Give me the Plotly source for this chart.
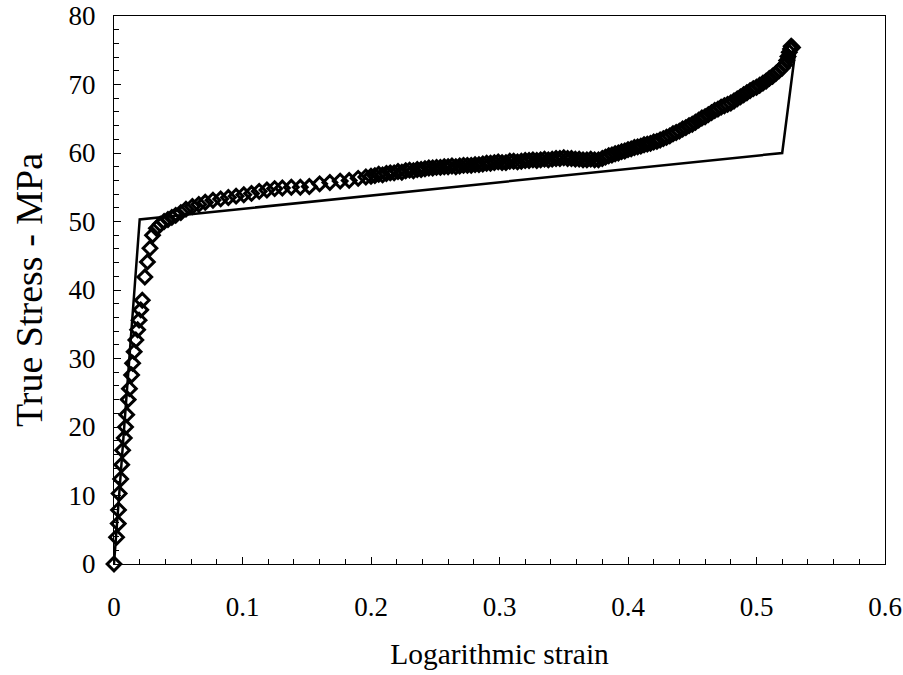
import plotly.graph_objects as go

# Measured true stress / logarithmic strain points
strain = [
    0.0, 0.002, 0.0033, 0.0035, 0.004, 0.0052, 0.006, 0.0067, 0.008, 0.009,
    0.0099, 0.011, 0.012, 0.0137, 0.0145, 0.0157, 0.017, 0.0184, 0.0195, 0.0208,
    0.022, 0.024, 0.026, 0.028, 0.030, 0.033, 0.036, 0.039, 0.042, 0.045,
    0.048, 0.052, 0.056, 0.061, 0.066, 0.071, 0.077, 0.083, 0.089, 0.095,
    0.101, 0.107, 0.113, 0.119, 0.125, 0.131, 0.138, 0.145, 0.152, 0.160,
    0.168, 0.176, 0.183, 0.190, 0.196,
    0.200, 0.203, 0.206, 0.209, 0.212, 0.215, 0.218, 0.221, 0.224, 0.227,
    0.230, 0.233, 0.236, 0.239, 0.242, 0.245, 0.248, 0.251, 0.254, 0.257,
    0.260, 0.263, 0.266, 0.269, 0.272, 0.275, 0.278, 0.281, 0.284, 0.287,
    0.290, 0.293, 0.296, 0.299, 0.302, 0.305, 0.308, 0.311, 0.314, 0.317,
    0.320, 0.323, 0.326, 0.329, 0.332, 0.335, 0.338, 0.341, 0.344, 0.347,
    0.350, 0.353, 0.356, 0.359, 0.362, 0.365, 0.368, 0.371, 0.374, 0.377,
    0.380, 0.3825, 0.385, 0.3875, 0.390, 0.3925, 0.395, 0.3975, 0.400, 0.4025,
    0.405, 0.4075, 0.410, 0.4125, 0.415, 0.4175, 0.420, 0.4225, 0.425, 0.4275,
    0.430, 0.4325, 0.435, 0.4375, 0.440, 0.4425, 0.445, 0.4475, 0.450, 0.4525,
    0.455, 0.4575, 0.460, 0.4625, 0.465, 0.4675, 0.470, 0.4725, 0.475, 0.4775,
    0.480, 0.4825, 0.485, 0.4875, 0.490, 0.4925, 0.495, 0.4975, 0.500, 0.5025,
    0.505, 0.5075, 0.510, 0.5125, 0.515, 0.5175, 0.520, 0.522, 0.5235, 0.5245,
    0.5255, 0.5265, 0.527, 0.528,
]
stress = [
    0.0, 3.9, 5.9, 7.9, 10.3, 12.4, 14.5, 16.6, 18.4, 20.0,
    21.8, 24.0, 25.6, 27.6, 29.3, 31.0, 32.7, 34.2, 35.6, 37.1,
    38.5, 41.9, 44.1, 46.1, 48.0, 49.0, 49.6, 50.0, 50.3, 50.6,
    50.9, 51.3, 51.8, 52.2, 52.5, 52.8, 53.1, 53.3, 53.5, 53.7,
    53.9, 54.1, 54.4, 54.6, 54.8, 54.9, 55.0, 55.0, 55.1, 55.5,
    55.7, 55.9, 56.0, 56.3, 56.5,
    56.6, 56.7, 56.9, 56.8, 57.0, 57.1, 57.1, 57.3, 57.2, 57.4,
    57.5, 57.4, 57.6, 57.6, 57.7, 57.8, 57.8, 57.9, 57.9, 58.0,
    58.0, 58.1, 58.0, 58.1, 58.2, 58.2, 58.2, 58.3, 58.3, 58.4,
    58.5, 58.5, 58.6, 58.7, 58.6, 58.6, 58.8, 58.8, 58.7, 58.8,
    58.9, 58.9, 59.0, 58.9, 59.0, 59.1, 59.0, 59.1, 59.2, 59.2,
    59.3, 59.2, 59.2, 59.1, 59.1, 59.0, 59.0, 59.1, 59.0, 59.0,
    59.2, 59.4, 59.6, 59.7, 59.9, 60.0, 60.2, 60.3, 60.5, 60.6,
    60.8, 60.9, 61.0, 61.2, 61.3, 61.4, 61.6, 61.7, 61.9, 62.1,
    62.3, 62.5, 62.8, 63.0, 63.2, 63.5, 63.7, 64.0, 64.2, 64.5,
    64.8, 65.1, 65.3, 65.6, 65.9, 66.2, 66.4, 66.7, 66.9, 67.1,
    67.3, 67.6, 67.9, 68.2, 68.5, 68.8, 69.1, 69.4, 69.6, 69.9,
    70.2, 70.5, 70.9, 71.2, 71.6, 72.0, 72.4, 72.9, 73.5, 74.1,
    74.7, 75.2, 75.6, 75.4,
]

# Piecewise-linear (bilinear + hardening) model
model_strain = [0.0, 0.020, 0.520, 0.530]
model_stress = [0.0, 50.3, 60.0, 74.6]

x_ticks = [0, 0.1, 0.2, 0.3, 0.4, 0.5, 0.6]
x_tick_text = ["0", "0.1", "0.2", "0.3", "0.4", "0.5", "0.6"]
y_ticks = [0, 10, 20, 30, 40, 50, 60, 70, 80]

serif = "Liberation Serif"

fig = go.Figure()
fig.add_trace(go.Scatter(
    x=model_strain, y=model_stress, mode="lines",
    line=dict(color="black", width=2.5),
    showlegend=False, cliponaxis=False,
))
fig.add_trace(go.Scatter(
    x=strain, y=stress, mode="markers",
    marker=dict(symbol="diamond-open", size=10.5, color="black",
                line=dict(color="black", width=3)),
    showlegend=False, cliponaxis=False,
))

axis_common = dict(
    showgrid=False, zeroline=False, showline=True, linecolor="black",
    linewidth=1.2, mirror=True, ticks="inside", ticklen=7, tickwidth=1,
    tickcolor="black", automargin=False,
    tickfont=dict(family=serif, size=27, color="black"),
)

fig.update_xaxes(
    **axis_common, range=[0, 0.6], tickvals=x_ticks, ticktext=x_tick_text,
    minor=dict(dtick=0.02, ticks="inside", ticklen=5, tickcolor="black"),
    ticklabelstandoff=18,
    title=dict(text="Logarithmic strain", font=dict(family=serif, size=29.5, color="black"),
               standoff=22),
)
fig.update_yaxes(
    **axis_common, range=[0, 80], tickvals=y_ticks,
    minor=dict(dtick=2, ticks="inside", ticklen=5, tickcolor="black"),
    ticklabelstandoff=12,
    title=dict(text="True Stress - MPa", font=dict(family=serif, size=38, color="black"),
               standoff=14),
)

fig.update_layout(
    width=903, height=675,
    margin=dict(l=114, r=18, t=16, b=111),
    font=dict(family=serif, color="black"),
    paper_bgcolor="white", plot_bgcolor="white",
)

fig.write_html("out.html")
